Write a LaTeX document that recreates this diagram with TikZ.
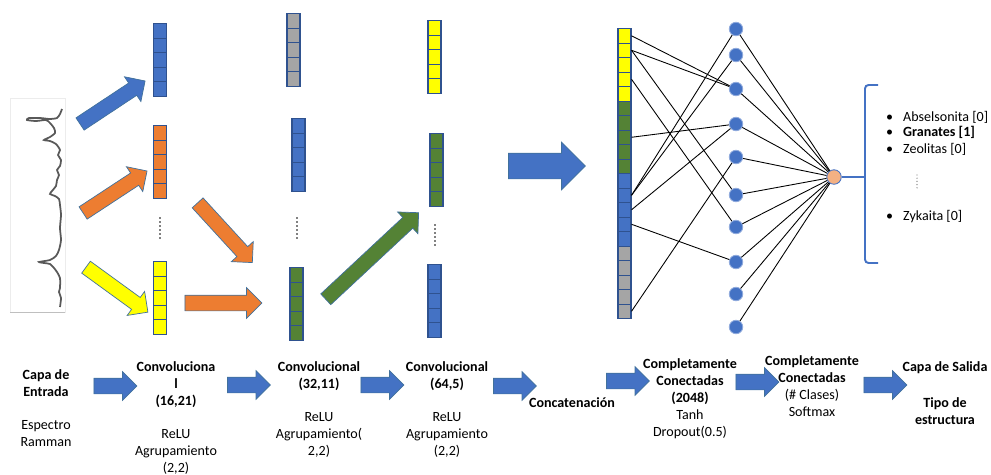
\documentclass[tikz,border=0pt]{standalone}
\usepackage{fontspec}
\setmainfont{Carlito}
\usepackage{tikz}
\usetikzlibrary{positioning,shapes.arrows}

\definecolor{azul}{HTML}{4472C4}
\definecolor{naranja}{HTML}{ED7D31}
\definecolor{amarillo}{HTML}{FFFF00}
\definecolor{gris}{HTML}{A5A5A5}
\definecolor{verde}{HTML}{548235}
\definecolor{borde}{HTML}{41719C}
\definecolor{bordecelda}{HTML}{2F528F}
\definecolor{salmon}{HTML}{F4B183}

\tikzset{
  celda/.style={draw=bordecelda, line width=0.6pt, minimum width=0.26cm, minimum height=0.29cm, inner sep=0pt, anchor=north},
  flecha/.style={single arrow, draw=borde, line width=0.4pt, inner xsep=0pt, inner ysep=0.14cm, single arrow head extend=0.15cm},
  paso/.style={flecha, fill=azul, inner ysep=0.15cm, single arrow head extend=0.13cm, minimum height=0.86cm},
  neurona/.style={circle, fill=azul, draw=azul!60, line width=0.5pt, minimum size=0.27cm, inner sep=0pt},
  etiqueta/.style={align=center, font=\fontsize{8}{9.7}\selectfont},
  negrita/.style={align=center, font=\fontsize{8}{9.7}\selectfont\bfseries},
}

\begin{document}
\begin{tikzpicture}[x=0.02cm, y=-0.02cm]
    \useasboundingbox (0,0) rectangle (991,474);
    % espectro
    \draw[gray!15] (10,98) rectangle (65,312);
    \draw[gray!50] (10,312) -- (65,312);
    \draw[line width=1pt, black!65] plot[smooth, tension=0.4] coordinates {(62,109) (60,114) (57,118) (50,119) (40,118) (29,118) (27,120) (36,121) (46,120) (50,123) (54,128) (55,133) (50,137) (44,140) (50,141) (56,144) (60,150) (58,155) (61,160) (60,166) (57,170) (59,175) (57,180) (56,186) (52,191) (50,194) (55,196) (59,199) (60,205) (61,215) (60,228) (61,240) (59,250) (56,256) (50,260) (39,262) (44,263) (50,264) (54,268) (57,272) (60,278) (60,288) (59,292) (61,298) (60,307)};
    % pilas de celdas
    \foreach \n/\x/\y/\col in {p1/160/23/azul, p2/160/125/naranja, p3/160/261/amarillo, p4/293.5/13/gris, p5/298.5/118/azul, p6/296.5/267/verde, p7/434.5/20/amarillo, p8/436.5/133/verde, p9/434.5/264/azul}
      \foreach \i in {1,...,5}
        \node[celda, fill=\col] (\n-\i) at (\x,{\y+(\i-1)*14.6}) {};
    \foreach \x/\y in {160/218, 297/218, 435/225}
      \foreach \k in {0,...,5}
        \fill (\x,{\y+\k*4}) circle (0.5pt);
    % flechas
    \node[flecha, fill=azul, minimum height=1.56cm, rotate=33.5] (f1) at (109.5,104.5) {};
    \node[flecha, fill=naranja, minimum height=1.53cm, rotate=33.3] (f2) at (112,194) {};
    \node[flecha, fill=amarillo, minimum height=1.53cm, rotate=-36] (f3) at (114,287.5) {};
    \node[flecha, fill=naranja, minimum height=1.62cm, rotate=-47.5] (f4) at (222.5,230) {};
    \node[flecha, fill=naranja, minimum height=1.54cm, inner ysep=0.15cm] (f5) at (219.5,303) {};
    \node[flecha, fill=verde, minimum height=2.54cm, rotate=43] (f6) at (369.5,258.5) {};
    \node[flecha, fill=azul, minimum height=1.54cm, inner ysep=0.25cm, single arrow head extend=0.22cm] (f7) at (540.5,166) {};
    % concatenacion
    \foreach \col [count=\g from 0] in {amarillo,verde,azul,gris}
      \foreach \j in {1,...,5} {
        \pgfmathtruncatemacro\i{\g*5+\j}
        \node[celda, fill=\col] (c\i) at (624.5,{28+(\i-1)*14.5}) {};
      }
    % capas conectadas
    \foreach \y [count=\i] in {29,55,89,124,157,195,227,262,294,327}
      \node[neurona] (h\i) at (736,\y) {};
    \node[neurona, fill=salmon, draw=azul, minimum size=0.29cm] (out) at (834,177) {};
    \foreach \a/\b in {1/3,2/3,2/6,4/7,8/4,12/1,12/2,13/4,14/8,20/5}
      \draw[line width=0.5pt] (c\a.east) -- (h\b);
    \foreach \i in {1,...,10}
      \draw[line width=0.5pt] (h\i) -- (out);
    % salida
    \coordinate (llave) at (865,177);
    \draw[azul, line width=1.1pt] (out) -- (llave);
    \draw[azul, line width=1.1pt, rounded corners=2pt] (878,85) -- (865,85) -- (865,263) -- (878,263);
    \node[etiqueta, anchor=west] (i1) at (880,117) {\textbullet\hspace{0.2cm}Abselsonita [0]};
    \node[etiqueta, anchor=west] (i2) at (880,132) {\textbullet\hspace{0.2cm}\textbf{Granates [1]}};
    \node[etiqueta, anchor=west] (i3) at (880,149) {\textbullet\hspace{0.2cm}Zeolitas [0]};
    \node[etiqueta, anchor=west] (i4) at (880,217) {\textbullet\hspace{0.2cm}Zykaita [0]};
    \foreach \k in {0,...,4}
      \fill[gray] (917,{175+\k*3.2}) circle (0.4pt);
    % textos inferiores
    \node[negrita] (entrada) at (46,383.5) {Capa de\\Entrada};
    \node[etiqueta] (espectro) at (46,433.5) {Espectro\\Ramman};
    \node[negrita] (conv1) at (176,385) {Convoluciona\\l\\(16,21)};
    \node[etiqueta] (conv1b) at (176,452) {ReLU\\Agrupamiento\\(2,2)};
    \node[negrita] (conv2) at (319,376.5) {Convolucional\\(32,11)};
    \node[etiqueta] (conv2b) at (319,435) {ReLU\\Agrupamiento(\\2,2)};
    \node[negrita] (conv3) at (447,376.5) {Convolucional\\(64,5)};
    \node[etiqueta] (conv3b) at (447,435) {ReLU\\Agrupamiento\\(2,2)};
    \node[negrita] (concat) at (572,403) {Concatenación};
    \node[etiqueta] (fc1) at (690,398.5) {\textbf{Completamente}\\\textbf{Conectadas}\\\textbf{(2048)}\\Tanh\\Dropout(0.5)};
    \node[etiqueta] (fc2) at (812,386.5) {\textbf{Completamente}\\\textbf{Conectadas}\\(\# Clases)\\Softmax};
    \node[negrita] (salida) at (945,368) {Capa de Salida};
    \node[negrita] (tipo) at (945,411.5) {Tipo de\\estructura};
    \foreach \x/\y [count=\i] in {111.5/386, 245/385, 378.5/385, 511/386, 624/381, 753.5/382, 881.5/385}
      \node[paso] (b\i) at (\x,\y) {};
\end{tikzpicture}
\end{document}
